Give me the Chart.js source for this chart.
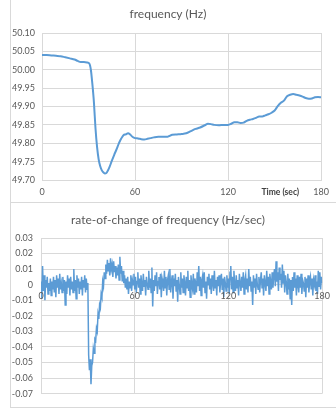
<!DOCTYPE html>
<html><head><meta charset="utf-8">
<script src="https://cdn.jsdelivr.net/npm/chart.js@4/dist/chart.umd.min.js"></script>
<style>
html,body{margin:0;padding:0;background:#fff;width:336px;height:414px;overflow:hidden;}
.frame{position:absolute;background:#d9d9d9;}
#c1wrap{position:absolute;left:11px;top:0;width:325px;height:202px;}
#c2wrap{position:absolute;left:11px;top:203px;width:325px;height:204px;}
canvas{display:block;}
</style></head><body>
<div class="frame" style="left:10px;top:0;width:1px;height:408px"></div>
<div class="frame" style="left:10px;top:202px;width:326px;height:1px"></div>
<div class="frame" style="left:10px;top:407px;width:326px;height:1px"></div>
<div id="c1wrap"><canvas id="c1" width="325" height="202"></canvas></div>
<div id="c2wrap"><canvas id="c2" width="325" height="204"></canvas></div>
<script>
// ---- Data: frequency (Hz) ----
const freqTime = [0,3,6,9,12,15,18,21,23,25,27,29,30.5,31.5,32.5,33.5,34.5,35.5,36.5,37.5,38.5,39.5,40.5,41.5,42.5,43.5,45,46.5,48,49.5,51,52.5,54,55.5,57,58.5,60,62,64,66,68,70,72,75,78,81,84,87,90,93,96,99,102,105,107,109,111,114,117,120,122,124,126,128,130,132,134,136,138,140,142,144,146,148,150,152,154,156,158,160,162,164,166,168,170,172,174,176,178,180];
const freqHz = [50.040,50.040,50.039,50.038,50.037,50.034,50.031,50.028,50.024,50.021,50.021,50.020,50.017,50.000,49.960,49.910,49.840,49.790,49.757,49.738,49.727,49.721,49.718,49.719,49.726,49.735,49.752,49.768,49.783,49.799,49.812,49.822,49.824,49.827,49.823,49.817,49.814,49.813,49.811,49.810,49.812,49.814,49.816,49.818,49.818,49.818,49.823,49.824,49.825,49.827,49.833,49.839,49.843,49.849,49.853,49.852,49.850,49.849,49.850,49.850,49.853,49.857,49.857,49.855,49.856,49.861,49.864,49.866,49.869,49.873,49.873,49.876,49.879,49.883,49.889,49.901,49.910,49.916,49.928,49.932,49.934,49.932,49.930,49.927,49.923,49.921,49.922,49.925,49.926,49.925];
const freqTicks = [49.70,49.75,49.80,49.85,49.90,49.95,50.00,50.05,50.10];

// ---- Data: rate-of-change of frequency (Hz/sec), sampled every 0.5 s from 0 to 180 s ----
const rocofStart = 0, rocofStep = 0.5;
const rocof = [
 0.002,-0.009,0.012,-0.004,0.006,-0.010,0.003,-0.002,0.005,-0.006,
 0.001,-0.004,0.004,-0.007,0.002,-0.003,0.005,-0.005,0.003,-0.008,
 0.006,-0.002,0.004,-0.006,0.007,-0.003,0.001,-0.005,0.005,-0.004,
 0.003,-0.013,0.002,-0.006,0.006,-0.002,0.004,-0.007,0.005,-0.003,
 0.002,-0.005,0.010,-0.004,0.003,-0.009,0.006,-0.002,0.004,-0.006,
 0.002,-0.003,0.005,-0.007,0.003,-0.002,0.006,-0.005,0.004,-0.003,
 0.001,-0.045,-0.055,-0.048,-0.064,-0.052,-0.050,-0.041,-0.044,-0.035,
 -0.036,-0.028,-0.030,-0.019,-0.022,-0.013,-0.015,-0.006,-0.008,0.002,
 -0.001,0.008,0.004,0.013,0.007,0.016,0.009,0.014,0.006,0.017,
 0.010,0.013,0.005,0.015,0.008,0.012,0.004,0.011,0.006,0.013,
 0.003,0.018,0.007,0.012,0.002,0.009,0.001,0.006,-0.002,0.004,
 -0.003,0.005,-0.006,0.002,-0.002,0.006,-0.004,0.003,0.000,0.007,
 -0.003,0.005,-0.005,0.002,0.008,-0.002,0.004,-0.006,0.006,0.000,
 -0.004,0.007,-0.001,0.003,-0.007,0.005,0.001,-0.003,0.009,-0.002,
 0.004,-0.005,0.011,-0.014,0.003,-0.004,0.006,-0.001,0.008,-0.006,
 0.002,0.005,-0.003,0.007,-0.008,0.004,0.001,-0.004,0.009,-0.002,
 0.005,-0.007,0.003,0.006,-0.003,0.010,-0.005,0.002,0.006,-0.009,
 0.004,-0.001,0.007,-0.004,0.003,-0.011,0.005,0.000,-0.006,0.008,
 -0.002,0.004,-0.005,0.006,0.001,-0.007,0.005,-0.002,0.009,-0.004,
 0.003,-0.008,0.006,0.000,-0.003,0.007,-0.006,0.004,0.001,-0.005,
 0.008,-0.001,0.012,-0.004,0.005,-0.007,0.003,0.006,-0.002,0.008,
 -0.005,0.002,-0.009,0.005,0.000,0.007,-0.003,0.004,-0.006,0.006,
 0.001,-0.004,0.009,-0.002,0.003,-0.007,0.005,-0.001,0.006,-0.005,
 0.002,0.007,-0.003,0.004,-0.008,0.005,0.001,-0.004,0.006,-0.002,
 0.004,-0.006,0.008,0.012,-0.003,0.005,-0.005,0.009,0.000,-0.004,
 0.006,-0.002,0.003,-0.007,0.007,0.001,-0.004,0.005,-0.002,0.008,
 -0.006,0.003,0.006,-0.003,0.004,-0.005,0.010,-0.001,0.005,-0.004,
 0.002,-0.013,0.006,-0.002,0.004,-0.006,0.007,0.000,-0.003,0.005,
 -0.005,0.003,0.008,-0.002,0.004,-0.007,0.006,0.001,-0.004,0.009,
 -0.001,0.005,-0.006,0.007,0.002,-0.003,0.008,-0.002,0.006,0.010,
 -0.001,0.015,0.002,0.008,-0.004,0.011,0.003,0.007,-0.002,0.013,
 0.001,0.009,-0.005,0.006,0.002,-0.006,0.007,-0.003,0.004,-0.009,
 0.003,-0.013,0.005,-0.004,0.008,-0.002,0.004,-0.007,0.006,0.000,
 -0.005,0.005,-0.002,0.007,-0.006,0.003,0.001,-0.004,0.005,-0.008,
 0.004,-0.002,0.006,-0.005,0.002,0.005,-0.003,0.004,-0.007,0.003,
 0.000,0.006,-0.004,0.002,-0.006,0.009,-0.001,0.008,-0.003,0.005,
 0.001
];
const timeTicks = [0,60,120,180];
const rocofTicks = [-0.07,-0.06,-0.05,-0.04,-0.03,-0.02,-0.01,0,0.01,0.02,0.03];

// ---- Styles ----
const FONT = 'Lato';
const LINE = '#5b9bd5';
const GRID = '#d9d9d9';
const TXT = '#595959';

Chart.defaults.font.family = FONT;

const timeLabel = {
  id: 'timeLabel',
  afterDraw(chart) {
    const {ctx, chartArea} = chart;
    ctx.save();
    ctx.font = 'bold 8.5px ' + FONT;
    ctx.fillStyle = '#404040';
    ctx.textAlign = 'right';
    ctx.textBaseline = 'middle';
    ctx.fillText('Time (sec)', chartArea.right - 22, chartArea.bottom + 12);
    ctx.restore();
  }
};

new Chart(document.getElementById('c1'), {
  type: 'line',
  data: { datasets: [{
    data: freqTime.map((t, i) => ({x: t, y: freqHz[i]})),
    borderColor: LINE, borderWidth: 2, pointRadius: 0,
    cubicInterpolationMode: 'monotone', fill: false
  }]},
  options: {
    responsive: false, animation: false, events: [],
    layout: { padding: { left: 0, right: 11, top: 0, bottom: 0 } },
    plugins: {
      legend: { display: false }, tooltip: { enabled: false },
      title: { display: true, text: 'frequency (Hz)', color: TXT,
        font: { family: FONT, size: 12, weight: 'normal' }, padding: { top: 6.8, bottom: 11.8 } }
    },
    scales: {
      x: { type: 'linear', min: 0, max: 180,
        afterBuildTicks: s => { s.ticks = timeTicks.map(v => ({value: v})); },
        ticks: { color: TXT, font: { size: 9 }, padding: 7, maxRotation: 0, autoSkip: false },
        grid: { color: GRID, drawTicks: false }, border: { color: GRID },
        afterFit: s => { s.height = 22; } },
      y: { min: 49.7, max: 50.1,
        afterBuildTicks: s => { s.ticks = freqTicks.map(v => ({value: v})); },
        ticks: { color: TXT, font: { size: 9 }, padding: 7, callback: v => Number(v).toFixed(2) },
        grid: { color: GRID, drawTicks: false }, border: { color: GRID },
        afterFit: s => { s.width = 31; } }
    }
  },
  plugins: [timeLabel]
});

new Chart(document.getElementById('c2'), {
  type: 'line',
  data: { datasets: [{
    data: rocof.map((v, i) => ({x: rocofStart + i * rocofStep, y: v})),
    borderColor: LINE, borderWidth: 1.5, pointRadius: 0, tension: 0, fill: false
  }]},
  options: {
    responsive: false, animation: false, events: [],
    layout: { padding: { left: 0, right: 11, top: 0, bottom: 10 } },
    plugins: {
      legend: { display: false }, tooltip: { enabled: false },
      title: { display: true, text: 'rate-of-change of frequency (Hz/sec)', color: TXT,
        font: { family: FONT, size: 12, weight: 'normal' }, padding: { top: 9.8, bottom: 10.8 } }
    },
    scales: {
      x: { type: 'linear', min: 0, max: 180, position: { y: 0 },
        afterBuildTicks: s => { s.ticks = timeTicks.map(v => ({value: v})); },
        ticks: { color: TXT, font: { size: 9 }, padding: 6, maxRotation: 0, autoSkip: false, z: 1 },
        grid: { color: GRID, drawTicks: false }, border: { color: GRID } },
      y: { min: -0.07, max: 0.03,
        afterBuildTicks: s => { s.ticks = rocofTicks.map(v => ({value: v})); },
        ticks: { color: TXT, font: { size: 9 }, padding: 8,
          callback: v => Math.abs(v) < 1e-9 ? '0' : Number(v).toFixed(2) },
        grid: { color: GRID, drawTicks: false }, border: { color: GRID },
        afterFit: s => { s.width = 30; } }
    }
  }
});
</script>
</body></html>
